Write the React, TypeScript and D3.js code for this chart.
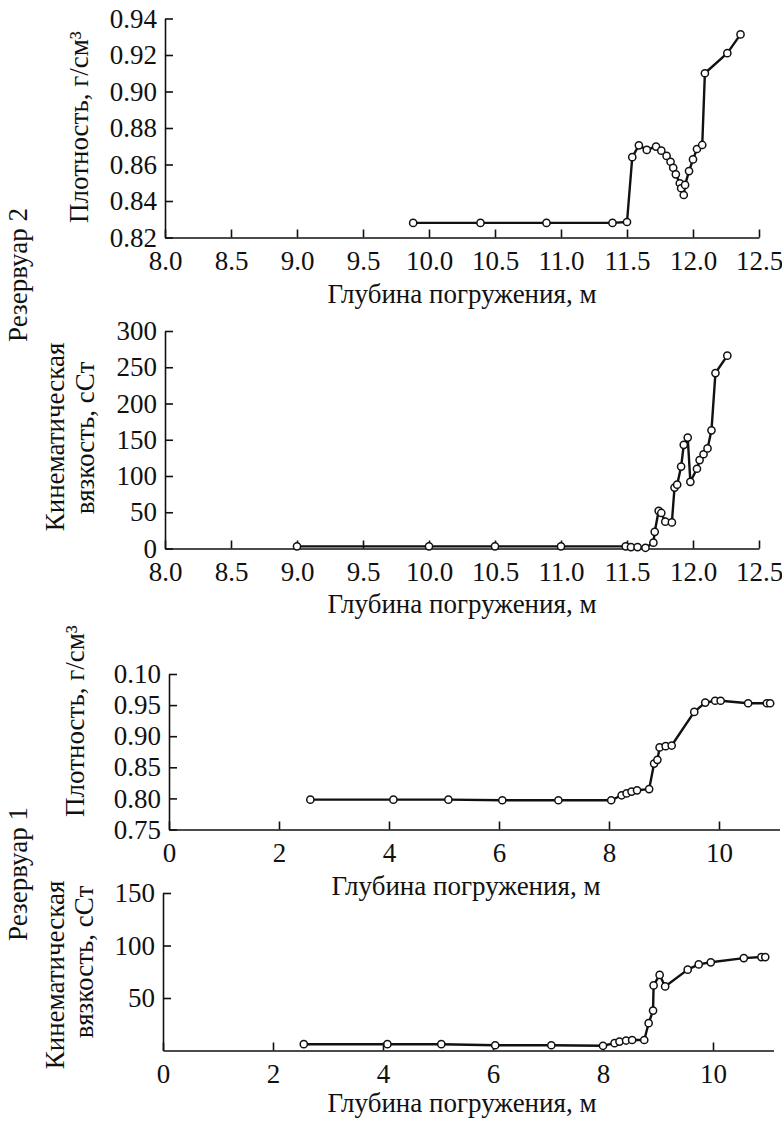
import React, { useEffect, useRef } from "react";
import { scaleLinear, axisBottom, axisLeft, select, line, format } from "d3";

const FONT = "Liberation Serif, Tinos, Times New Roman, DejaVu Serif, serif";
const FS = 27;

// Резервуар 2, плотность
const r2DensDepth = [9.88, 10.39, 10.89, 11.39, 11.5, 11.54, 11.59, 11.65, 11.72, 11.76, 11.8, 11.83, 11.85, 11.87, 11.9, 11.91, 11.93, 11.94, 11.97, 12.0, 12.03, 12.07, 12.09, 12.26, 12.36];
const r2DensValue = [0.828, 0.828, 0.828, 0.828, 0.8285, 0.864, 0.8705, 0.868, 0.8698, 0.8676, 0.8647, 0.8615, 0.8582, 0.8546, 0.8497, 0.847, 0.8433, 0.8488, 0.8564, 0.8628, 0.8685, 0.8707, 0.91, 0.921, 0.9313];

// Резервуар 2, вязкость
const r2ViscDepth = [9.0, 10.0, 10.5, 11.0, 11.49, 11.53, 11.58, 11.64, 11.7, 11.71, 11.74, 11.76, 11.79, 11.84, 11.86, 11.88, 11.91, 11.93, 11.96, 11.98, 12.03, 12.05, 12.08, 12.11, 12.14, 12.17, 12.26];
const r2ViscValue = [3, 3, 3, 3, 3, 2, 2, 1, 8, 23, 52, 49, 37, 36, 84, 88, 113, 143, 153, 92, 110, 122, 130, 138, 163, 242, 266];

// Резервуар 1, плотность
const r1DensDepth = [2.57, 4.08, 5.08, 6.06, 7.08, 8.04, 8.23, 8.32, 8.41, 8.51, 8.73, 8.82, 8.88, 8.92, 9.03, 9.14, 9.55, 9.75, 9.93, 10.03, 10.53, 10.87, 10.93];
const r1DensValue = [0.798, 0.798, 0.798, 0.797, 0.797, 0.797, 0.805, 0.808, 0.811, 0.813, 0.815, 0.856, 0.862, 0.882, 0.884, 0.885, 0.939, 0.954, 0.957, 0.957, 0.953, 0.953, 0.953];

// Резервуар 1, вязкость
const r1ViscDepth = [2.56, 4.08, 5.06, 6.04, 7.06, 8.0, 8.21, 8.3, 8.42, 8.53, 8.75, 8.83, 8.91, 8.92, 9.03, 9.13, 9.54, 9.74, 9.96, 10.56, 10.88, 10.95];
const r1ViscValue = [6, 6, 6, 5, 5, 4.5, 7, 8.5, 9.5, 10, 10, 26, 38, 62, 72, 61, 77, 82, 84, 88, 89, 89];

// ticks
const r2DepthTicks = [8.0, 8.5, 9.0, 9.5, 10.0, 10.5, 11.0, 11.5, 12.0, 12.5];
const r1DepthTicks = [0, 2, 4, 6, 8, 10];
const r2DensTicks = [0.82, 0.84, 0.86, 0.88, 0.9, 0.92, 0.94];
const r2ViscTicks = [0, 50, 100, 150, 200, 250, 300];
const r1DensTicks = [0.75, 0.8, 0.85, 0.9, 0.95, 1.0];
const r1DensLabels = ["0.75", "0.80", "0.85", "0.90", "0.95", "0.10"];
const r1ViscTicks = [50, 100, 150];

const xTitle = "Глубина погружения, м";

function Panel({ depth, values, xDomain, xRange, yDomain, yRange, xTicks, xFormat, yTicks, yFormat }) {
  const xAxisRef = useRef(null);
  const yAxisRef = useRef(null);

  const x = scaleLinear().domain(xDomain).range(xRange);
  const y = scaleLinear().domain(yDomain).range(yRange);

  const pts = depth.map((d, i) => [d, values[i]]);
  const path = line()
    .x(d => x(d[0]))
    .y(d => y(d[1]))(pts);

  useEffect(() => {
    const gx = select(xAxisRef.current);
    gx.call(
      axisBottom(x)
        .tickValues(xTicks)
        .tickFormat(xFormat)
        .tickSizeInner(-8)
        .tickSizeOuter(0)
        .tickPadding(13)
    );
    const gy = select(yAxisRef.current);
    gy.call(
      axisLeft(y)
        .tickValues(yTicks)
        .tickFormat(yFormat)
        .tickSizeInner(-8)
        .tickSizeOuter(0)
        .tickPadding(8)
    );
    [gx, gy].forEach(g => {
      g.attr("font-family", FONT).attr("font-size", FS).attr("color", "#111");
      g.selectAll("path, line").attr("stroke-width", 1.6);
    });
  }, []);

  return (
    <g>
      <g ref={xAxisRef} transform={`translate(0, ${yRange[0]})`} />
      <g ref={yAxisRef} transform={`translate(${xRange[0]}, 0)`} />
      <path d={path} fill="none" stroke="#111" strokeWidth={2.4} strokeLinejoin="round" />
      {pts.map((d, i) => (
        <circle key={i} cx={x(d[0])} cy={y(d[1])} r={3.6} fill="#fff" stroke="#111" strokeWidth={1.5} />
      ))}
    </g>
  );
}

function VText({ x, y, children }) {
  return (
    <text
      transform={`translate(${x}, ${y}) rotate(-90)`}
      textAnchor="middle"
      fontFamily={FONT}
      fontSize={FS}
      fill="#111"
    >
      {children}
    </text>
  );
}

function HText({ x, y, children }) {
  return (
    <text x={x} y={y} textAnchor="middle" fontFamily={FONT} fontSize={FS} fill="#111">
      {children}
    </text>
  );
}

export default function App() {
  const width = 782,
    height = 1121;
  const f2 = format(".2f");
  const f1 = format(".1f");

  return (
    <svg
      width={width}
      height={height}
      style={{ position: "absolute", left: 0, top: 0, background: "#fff" }}
    >
      {/* Резервуар 2 */}
      <Panel
        depth={r2DensDepth}
        values={r2DensValue}
        xDomain={[8, 12.5]}
        xRange={[165, 759]}
        yDomain={[0.82, 0.94]}
        yRange={[237.5, 18.5]}
        xTicks={r2DepthTicks}
        xFormat={f1}
        yTicks={r2DensTicks}
        yFormat={f2}
      />
      <HText x={462} y={303}>{xTitle}</HText>
      <VText x={88} y={127}>Плотность, г/см³</VText>

      <Panel
        depth={r2ViscDepth}
        values={r2ViscValue}
        xDomain={[8, 12.5]}
        xRange={[165, 759]}
        yDomain={[0, 300]}
        yRange={[548.5, 331]}
        xTicks={r2DepthTicks}
        xFormat={f1}
        yTicks={r2ViscTicks}
        yFormat={format("d")}
      />
      <HText x={462} y={613}>{xTitle}</HText>
      <VText x={64} y={437}>Кинематическая</VText>
      <VText x={94} y={438}>вязкость, сСт</VText>
      <VText x={27} y={275}>Резервуар 2</VText>

      {/* Резервуар 1 */}
      <Panel
        depth={r1DensDepth}
        values={r1DensValue}
        xDomain={[0, 11.1]}
        xRange={[169, 779.5]}
        yDomain={[0.75, 1.0]}
        yRange={[829.5, 674]}
        xTicks={r1DepthTicks}
        xFormat={format("d")}
        yTicks={r1DensTicks}
        yFormat={(d, i) => r1DensLabels[i]}
      />
      <HText x={466} y={895}>{xTitle}</HText>
      <VText x={84} y={721}>Плотность, г/см³</VText>

      <Panel
        depth={r1ViscDepth}
        values={r1ViscValue}
        xDomain={[0, 11.1]}
        xRange={[163, 773.5]}
        yDomain={[0, 150]}
        yRange={[1050.5, 893]}
        xTicks={r1DepthTicks}
        xFormat={format("d")}
        yTicks={r1ViscTicks}
        yFormat={format("d")}
      />
      <HText x={462} y={1112}>{xTitle}</HText>
      <VText x={64} y={975}>Кинематическая</VText>
      <VText x={93} y={962}>вязкость, сСт</VText>
      <VText x={27} y={874}>Резервуар 1</VText>
    </svg>
  );
}
